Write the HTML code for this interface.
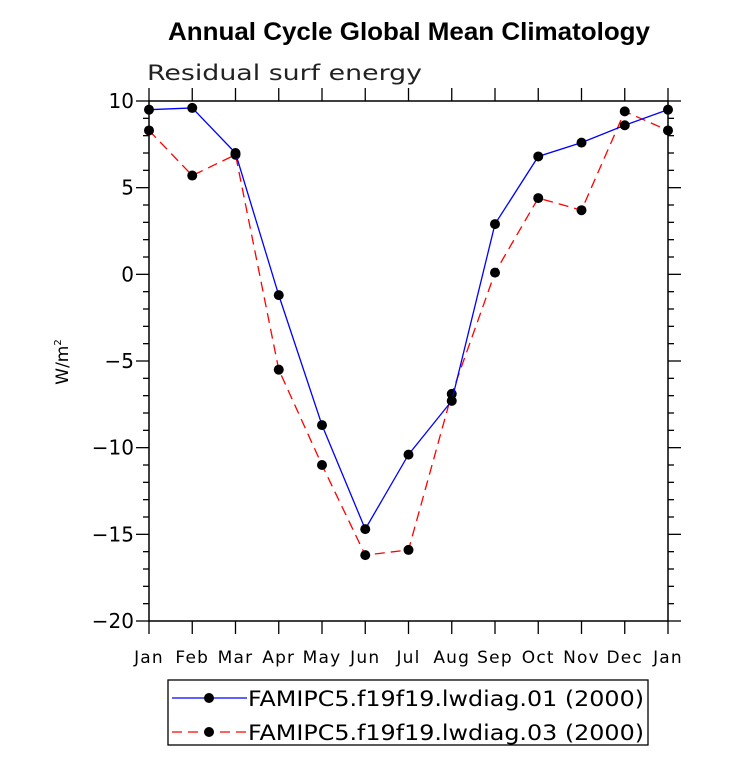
<!DOCTYPE html>
<html><head><meta charset="utf-8"><style>
body{margin:0;background:#fff;}
svg text{font-family:"DejaVu Sans","Liberation Sans",sans-serif;}
</style></head><body>
<svg id="chart" width="733" height="772" xmlns="http://www.w3.org/2000/svg">
<text x="168" y="40" textLength="482" lengthAdjust="spacingAndGlyphs" style="font-family:'Liberation Sans',sans-serif;font-weight:bold;font-size:25px">Annual Cycle Global Mean Climatology</text>
<text x="147" y="80" font-size="21" fill="#222" textLength="275" lengthAdjust="spacingAndGlyphs">Residual surf energy</text>
<text transform="translate(68,362) rotate(-90)" text-anchor="middle" font-size="17">W/m<tspan font-size="10" dy="-7">2</tspan></text>
<g id="axes"></g>
<g id="series"></g>
<g>
<rect x="168" y="680" width="480" height="65" fill="none" stroke="#000" stroke-width="1.3"/>
<line x1="172" y1="698" x2="247" y2="698" stroke="#0000ff" stroke-width="1.3"/>
<circle cx="209" cy="698" r="5" fill="#000"/>
<text x="248" y="706" font-size="21" textLength="396" lengthAdjust="spacingAndGlyphs">FAMIPC5.f19f19.lwdiag.01 (2000)</text>
<line x1="172" y1="732" x2="247" y2="732" stroke="#ff0000" stroke-width="1.3" stroke-dasharray="10,6"/>
<circle cx="209" cy="732" r="5" fill="#000"/>
<text x="248" y="740" font-size="21" textLength="396" lengthAdjust="spacingAndGlyphs">FAMIPC5.f19f19.lwdiag.03 (2000)</text>
</g>
</svg>
<script>
const months=["Jan","Feb","Mar","Apr","May","Jun","Jul","Aug","Sep","Oct","Nov","Dec","Jan"];
const series01=[9.5,9.6,7.0,-1.2,-8.7,-14.7,-10.4,-7.3,2.9,6.8,7.6,8.6,9.5];
const series03=[8.3,5.7,6.9,-5.5,-11.0,-16.2,-15.9,-6.9,0.1,4.4,3.7,9.4,8.3];
const yTicks=[10,5,0,-5,-10,-15,-20];
const yTickLabels=["10","5","0","\u22125","\u221210","\u221215","\u221220"];
const X0=149,X1=668,Y0=101,Y1=621,YMAX=10,YMIN=-20;
function xs(i){return X0+(X1-X0)*i/(months.length-1);}
function ys(v){return Y0+(YMAX-v)/(YMAX-YMIN)*(Y1-Y0);}
const NS="http://www.w3.org/2000/svg";
function mk(tag,attrs,parent){const e=document.createElementNS(NS,tag);for(const k in attrs)e.setAttribute(k,attrs[k]);parent.appendChild(e);return e;}
const axes=document.getElementById('axes');
const frame=mk('rect',{x:X0,y:Y0,width:X1-X0,height:Y1-Y0,fill:'none',stroke:'#000','stroke-width':1.5},axes);


for(let v=YMIN;v<=YMAX;v++){
  const major=v%5===0,len=major?13:6,y=ys(v);
  mk('line',{x1:X0-len,y1:y,x2:X0,y2:y,stroke:'#000','stroke-width':1.3},axes);
  mk('line',{x1:X1,y1:y,x2:X1+len,y2:y,stroke:'#000','stroke-width':1.3},axes);
}
yTicks.forEach((v,i)=>{
  const t=mk('text',{x:X0-15,y:ys(v)+7,'text-anchor':'end','font-size':20},axes);
  t.textContent=yTickLabels[i];
  
  
});
months.forEach((m,i)=>{
  const x=xs(i);
  mk('line',{x1:x,y1:Y1,x2:x,y2:Y1+13,stroke:'#000','stroke-width':1.3},axes);
  mk('line',{x1:x,y1:Y0-13,x2:x,y2:Y0,stroke:'#000','stroke-width':1.3},axes);
  const t=mk('text',{x:x,y:Y1+42,'text-anchor':'middle','font-size':17,'letter-spacing':'1.2'},axes);
  t.textContent=m;
  
  
});
const sg=document.getElementById('series');
function draw(data,color,dash,name){
  const pl=mk('polyline',{points:data.map((v,i)=>xs(i)+','+ys(v)).join(' '),fill:'none',stroke:color,'stroke-width':1.3},sg);
  if(dash)pl.setAttribute('stroke-dasharray',dash);
  
  
  data.forEach((v,i)=>{
    const c=mk('circle',{cx:xs(i),cy:ys(v),r:5,fill:'#000'},sg);
    
    
  });
}
draw(series03,'#ff0000','10,6','series-03');
draw(series01,'#0000ff',null,'series-01');
</script>
</body></html>
